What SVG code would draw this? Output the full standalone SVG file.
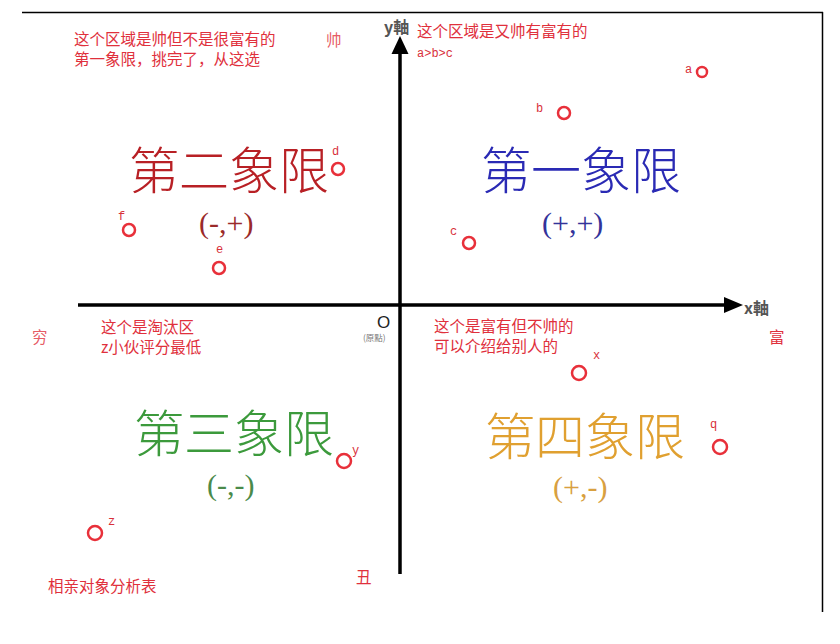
<svg xmlns="http://www.w3.org/2000/svg" width="840" height="644" viewBox="0 0 840 644">
<style>
.note{font-family:"Noto Sans CJK SC","Noto Sans",sans-serif;font-size:15.5px;fill:#e0303c}
.lbl{font-family:"Liberation Mono","DejaVu Sans Mono",monospace;font-size:12px;fill:#d8303a}
.pt{fill:none;stroke:#e8303a;stroke-width:2.5}
.quad{font-family:"Noto Sans CJK TC","Noto Sans CJK SC",sans-serif;font-size:50px;font-weight:300}
.sign{font-family:"Liberation Serif",serif;font-size:30px}
.ax{font-family:"Noto Sans CJK TC","Noto Sans",sans-serif;font-size:16px;font-weight:bold;fill:#555}
.axis{stroke:#000;stroke-width:3.5}
</style>
<rect width="840" height="644" fill="#fff"/>
<g id="frame">
<line x1="22" y1="12.5" x2="823" y2="12.5" stroke="#000" stroke-width="1.5"/>
<line x1="822.5" y1="12" x2="822.5" y2="612" stroke="#000" stroke-width="1.5"/>
</g>
<g id="axes">
<line class="axis" x1="400" y1="574" x2="400" y2="50"/>
<polygon points="400,36 391.5,54 408.5,54" fill="#000"/>
<line class="axis" x1="78" y1="305" x2="726" y2="305"/>
<polygon points="743,305 724,297 724,313" fill="#000"/>
<text class="ax" x="384" y="33">y軸</text>
<text class="ax" x="744" y="314">x軸</text>
<text x="377" y="328" font-family="Liberation Sans,sans-serif" font-size="17" fill="#222">O</text>
<text x="363" y="341" font-family="Noto Sans CJK TC,sans-serif" font-size="8.5" fill="#777">(原點)</text>
</g>
<g id="q1">
<text class="quad" x="481" y="189" fill="#2a2ab4">第一象限</text>
<text class="sign" x="542" y="233" fill="#33339a">(+,+)</text>
</g>
<g id="q2">
<text class="quad" x="129" y="189" fill="#b82025">第二象限</text>
<text class="sign" x="199" y="233" fill="#9a2a2a">(-,+)</text>
</g>
<g id="q3">
<text class="quad" x="134" y="452" fill="#3c9a3c">第三象限</text>
<text class="sign" x="207" y="495" fill="#4a8a4a">(-,-)</text>
</g>
<g id="q4">
<text class="quad" x="485" y="455" fill="#e0a030">第四象限</text>
<text class="sign" x="553" y="497" fill="#d8a040">(+,-)</text>
</g>
<g id="notes">
<text class="note"><tspan x="74" y="45">这个区域是帅但不是很富有的</tspan><tspan x="74" y="65">第一象限，挑完了，从这选</tspan></text>
<text class="note" x="326" y="46" fill-opacity="0.8">帅</text>
<text class="note" x="417" y="37">这个区域是又帅有富有的</text>
<text class="lbl" x="417" y="57">a&gt;b&gt;c</text>
<text class="note"><tspan x="434" y="332">这个是富有但不帅的</tspan><tspan x="434" y="352">可以介绍给别人的</tspan></text>
<text class="note"><tspan x="101" y="333">这个是淘汰区</tspan><tspan x="101" y="353">z小伙评分最低</tspan></text>
<text class="note" x="32" y="343" fill-opacity="0.8">穷</text>
<text class="note" x="769" y="343">富</text>
<text class="note" x="356" y="583">丑</text>
<text class="note" x="48" y="592">相亲对象分析表</text>
</g>
<g id="points">
<g id="pa"><circle class="pt" cx="702" cy="72" r="5"/><text class="lbl" x="685" y="73">a</text></g>
<g id="pb"><circle class="pt" cx="564" cy="113" r="6"/><text class="lbl" x="536" y="112">b</text></g>
<g id="pc"><circle class="pt" cx="469" cy="243" r="6"/><text class="lbl" x="450" y="235">c</text></g>
<g id="pd"><circle class="pt" cx="338" cy="169" r="6"/><text class="lbl" x="332" y="155">d</text></g>
<g id="pe"><circle class="pt" cx="219" cy="268" r="6"/><text class="lbl" x="216" y="253">e</text></g>
<g id="pf"><circle class="pt" cx="129" cy="230" r="6"/><text class="lbl" x="118" y="220">f</text></g>
<g id="px"><circle class="pt" cx="579" cy="373" r="7"/><text class="lbl" x="593" y="359">x</text></g>
<g id="pq"><circle class="pt" cx="720" cy="447" r="7"/><text class="lbl" x="710" y="428">q</text></g>
<g id="py"><circle class="pt" cx="344" cy="461" r="7"/><text class="lbl" x="352" y="454">y</text></g>
<g id="pz"><circle class="pt" cx="95" cy="533" r="7"/><text class="lbl" x="108" y="525">z</text></g>
</g>
</svg>
